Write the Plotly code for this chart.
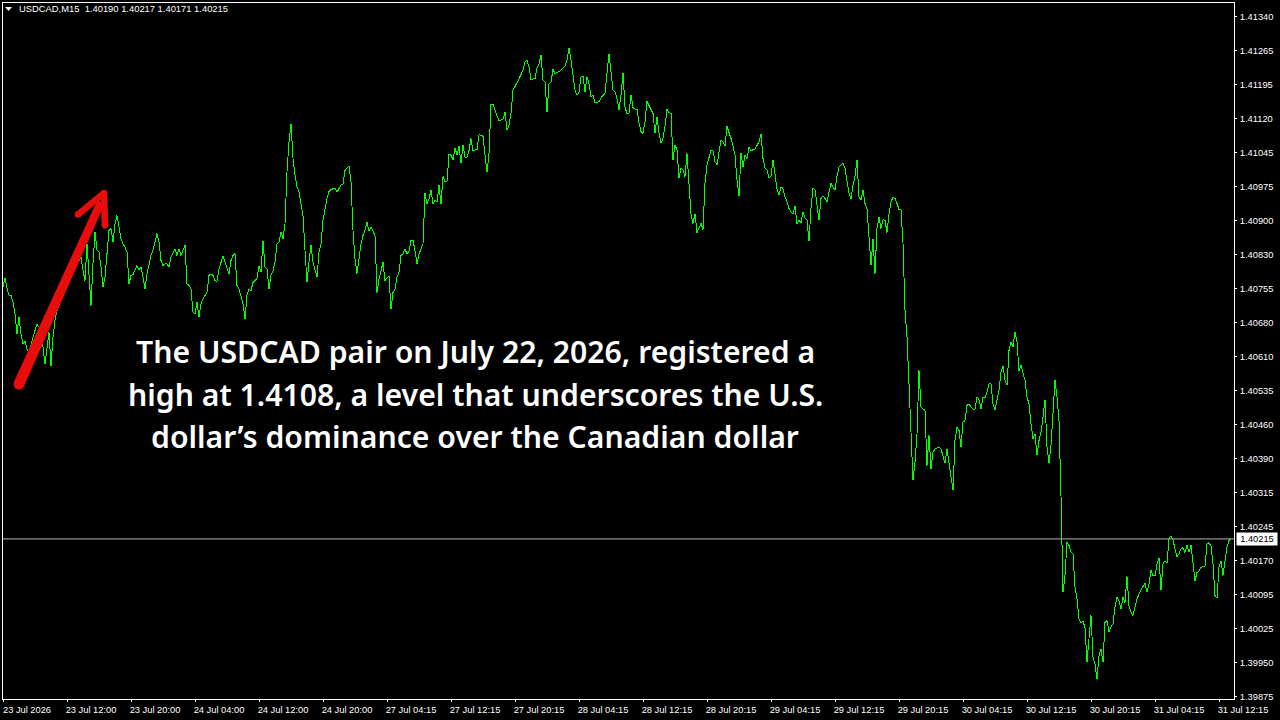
import plotly.graph_objects as go
import numpy as np

N = None
closes = [
 1.40758,1.40778,1.40756,1.40740,1.40740,1.40725,1.40700,1.40657,1.40693,1.40657,
 1.40635,1.40642,1.40624,1.40617,1.40632,1.40650,N,1.40678,1.40671,1.40642,
 1.40628,1.40592,1.40621,1.40660,1.40588,1.40650,1.40686,1.40707,1.40718,N,
 N,1.40750,N,N,1.40779,N,N,1.40808,N,1.40822,
 1.40794,1.40772,1.40851,1.40772,1.40718,1.40808,1.40876,1.40837,1.40833,1.40801,
 1.40758,1.40779,1.40837,1.40880,1.40884,1.40855,1.40894,1.40912,1.40887,1.40862,
 1.40851,1.40844,1.40833,1.40765,1.40783,1.40785,1.40794,1.40804,1.40794,1.40801,
 1.40779,1.40754,1.40786,1.40808,1.40826,1.40837,1.40855,1.40873,1.40855,1.40815,
 1.40804,1.40808,1.40808,1.40801,1.40822,1.40833,1.40840,1.40826,1.40840,1.40826,
 1.40837,1.40848,1.40765,1.40761,1.40754,1.40704,1.40700,1.40725,1.40693,1.40722,
 1.40732,1.40740,1.40747,1.40783,1.40786,1.40783,1.40772,1.40770,1.40797,N,
 1.40824,1.40812,1.40797,1.40786,1.40815,1.40826,1.40830,1.40761,1.40754,1.40740,
 1.40722,1.40689,1.40740,1.40754,1.40750,1.40768,1.40772,1.40776,1.40804,1.40790,
 1.40858,1.40801,1.40797,1.40754,1.40783,1.40793,1.40812,1.40851,1.40855,1.40877,
 1.40862,1.40894,1.41006,1.41071,1.41110,1.41035,1.40999,1.40974,1.40963,1.40934,
 1.40912,1.40837,1.40768,1.40812,1.40848,1.40812,1.40794,1.40779,1.40833,1.40851,
 1.40902,1.40927,1.40949,1.40964,1.40968,N,1.40971,1.40962,N,1.40978,
 1.40980,1.41009,1.41013,1.41019,1.40984,1.40880,1.40818,1.40787,1.40818,1.40851,
 1.40869,1.40881,1.40898,1.40878,1.40887,N,1.40869,1.40746,1.40775,1.40793,
 1.40811,1.40772,N,1.40782,1.40710,1.40746,1.40754,1.40779,1.40790,1.40826,
 1.40829,1.40840,1.40829,1.40836,1.40858,1.40859,1.40836,1.40808,1.40829,1.40842,
 1.40851,1.40960,1.40937,1.40948,1.40966,1.40936,1.40946,1.40941,1.40977,1.40937,
 1.40996,1.40984,1.40986,1.41044,1.41042,1.41032,1.41058,1.41042,1.41061,1.41025,
 1.41063,1.41038,1.41038,1.41052,1.41078,1.41052,N,1.41054,1.41086,N,
 1.41083,1.41042,1.41006,1.41045,1.41152,1.41152,1.41137,1.41126,1.41117,N,
 1.41119,1.41135,1.41096,1.41106,1.41132,1.41182,1.41189,1.41198,1.41207,N,
 1.41225,1.41243,1.41247,1.41232,1.41205,1.41206,1.41207,1.41229,1.41238,1.41258,
 1.41204,1.41200,1.41135,1.41196,1.41200,1.41227,1.41218,N,1.41222,N,
 1.41229,1.41234,1.41247,1.41272,1.41247,1.41218,1.41182,1.41171,1.41178,1.41211,
 1.41212,1.41178,1.41211,1.41196,1.41168,1.41171,1.41155,N,1.41157,1.41166,
 N,1.41175,1.41218,1.41261,1.41222,1.41182,1.41178,1.41164,1.41140,1.41171,
 1.41220,1.41145,1.41132,1.41132,1.41172,1.41145,1.41141,1.41141,1.41112,1.41093,
 1.41089,1.41114,1.41158,1.41150,1.41140,1.41132,1.41089,1.41125,1.41089,1.41068,
 1.41078,1.41104,1.41141,1.41134,1.41132,1.41032,1.41064,1.41053,1.40992,1.41014,
 1.41011,1.40996,1.41046,1.40974,1.40916,1.40895,1.40916,1.40875,1.40884,1.40895,
 1.40882,1.40981,1.41021,1.41040,1.41053,1.41052,1.41028,1.41021,1.41053,1.41075,
 1.41071,1.41062,1.41104,1.41093,1.41078,1.41062,1.41042,1.40988,1.40954,1.41046,
 1.41017,1.41042,1.41035,1.41059,1.41052,N,1.41055,N,1.41071,1.41088,
 1.41035,1.41014,1.41010,1.40994,1.40996,1.41032,1.40996,1.40970,1.40956,1.40974,
 1.40970,1.40952,1.40942,1.40927,1.40920,1.40916,1.40932,1.40893,1.40902,1.40896,
 1.40920,1.40906,1.40902,1.40857,1.40927,1.40970,1.40968,1.40938,1.40902,1.40949,
 1.40954,1.40949,1.40942,1.40963,1.40981,1.40973,1.40967,1.40996,1.41017,1.41021,
 1.41024,1.41014,1.40981,1.40960,1.40947,1.40978,1.40996,1.41032,1.40952,1.40945,
 1.40967,1.40938,1.40927,1.40862,1.40805,1.40862,1.40787,1.40884,1.40909,1.40884,
 1.40903,1.40902,1.40875,1.40916,1.40942,1.40951,1.40949,1.40938,1.40925,1.40925,
 1.40852,1.40708,1.40650,1.40549,1.40441,1.40341,1.40380,1.40441,1.40578,1.40499,
 1.40495,1.40492,1.40373,1.40438,1.40366,1.40402,1.40409,1.40411,1.40413,1.40409,
 1.40391,1.40378,1.40409,1.40380,1.40351,1.40320,1.40427,1.40456,1.40449,1.40413,
 1.40467,1.40470,1.40503,1.40506,1.40499,1.40495,1.40495,1.40521,1.40515,1.40495,
 1.40521,1.40519,1.40531,1.40549,1.40549,1.40506,1.40493,1.40517,1.40535,1.40575,
 1.40587,1.40557,1.40546,1.40621,1.40639,1.40629,1.40661,1.40639,1.40578,1.40589,
 1.40575,1.40557,1.40521,1.40506,1.40463,1.40431,1.40441,1.40395,1.40427,1.40445,
 1.40477,1.40515,1.40413,1.40378,1.40416,1.40477,1.40557,1.40521,1.40470,1.40308,
 1.40100,1.40136,1.40208,1.40201,1.40186,1.40183,1.40111,1.40086,1.40042,1.40035,
 1.40037,1.40024,1.39949,1.40000,1.40050,1.39960,1.39945,1.39913,1.39963,1.39978,
 1.39949,1.40035,1.40039,1.40014,1.40026,1.40032,1.40068,1.40089,1.40082,1.40064,
 1.40089,1.40078,1.40134,1.40071,1.40057,1.40050,1.40068,1.40086,N,1.40105,
 N,1.40120,1.40100,1.40118,1.40147,1.40136,1.40136,1.40161,1.40174,1.40105,
 1.40161,1.40168,1.40163,1.40215,1.40222,1.40212,1.40194,1.40176,1.40183,1.40194,
 1.40196,1.40186,1.40201,1.40186,1.40201,1.40158,1.40125,1.40143,1.40145,1.40154,
 N,1.40156,1.40204,1.40207,1.40199,1.40161,1.40093,1.40087,1.40154,1.40168,
 1.40136,1.40168,1.40197,1.40212,1.40215,
]
bars = list(range(len(closes)))

time_ticks = [0,32,64,96,128,160,192,224,256,288,320,352,384,416,448,480,512,544,576,608]
time_labels = ["23 Jul 2026","23 Jul 12:00","23 Jul 20:00","24 Jul 04:00","24 Jul 12:00","24 Jul 20:00",
               "27 Jul 04:15","27 Jul 12:15","27 Jul 20:15","28 Jul 04:15","28 Jul 12:15","28 Jul 20:15",
               "29 Jul 04:15","29 Jul 12:15","29 Jul 20:15","30 Jul 04:15","30 Jul 12:15","30 Jul 20:15",
               "31 Jul 04:15","31 Jul 12:15"]
price_labels = ["1.41340","1.41265","1.41195","1.41120","1.41045","1.40975","1.40900","1.40830","1.40755",
                "1.40680","1.40610","1.40535","1.40460","1.40390","1.40315","1.40245","1.40170","1.40095",
                "1.40025","1.39950","1.39875"]
price_ticks = np.linspace(1.41340, 1.39875, len(price_labels))
last_price = 1.40215
header = "USDCAD,M15  1.40190 1.40217 1.40171 1.40215"
message = ["The USDCAD pair on July 22, 2026, registered a",
           "high at 1.4108, a level that underscores the U.S.",
           "dollar’s dominance over the Canadian dollar"]

L, R, T, B = 3, 1234, 3, 699
W, H = 1280, 720
def px(x): return (x - L) / (R - L)
def py(y): return (B - y) / (B - T)
def poly(pts):
    return "M " + " L ".join(f"{px(a):.5f},{py(b):.5f}" for a, b in pts) + " Z"

RED = "#e80c0c"
def dot(x, y, r):
    return dict(type="circle", xref="paper", yref="paper", x0=px(x-r), x1=px(x+r),
                y0=py(y+r), y1=py(y-r), fillcolor=RED, line_width=0, layer="above")
def band(x0, y0, r0, x1, y1, r1):
    dx, dy = x1-x0, y1-y0
    n = (dx*dx+dy*dy)**0.5
    ux, uy = -dy/n, dx/n
    return dict(type="path", xref="paper", yref="paper", fillcolor=RED, line_width=0, layer="above",
                path=poly([(x0+ux*r0, y0+uy*r0), (x1+ux*r1, y1+uy*r1), (x1-ux*r1, y1-uy*r1), (x0-ux*r0, y0-uy*r0)]))

arrow = [
    band(19, 384, 5.5, 101, 202, 4),
    band(78, 214.5, 3.2, 104, 193, 3.2),
    band(105, 225, 3.4, 104, 193, 3.2),
    dot(19, 384, 5.5), dot(78, 214.5, 3.2), dot(105, 225, 3.4), dot(104, 193, 3.2),
]

fig = go.Figure(go.Scatter(x=bars, y=closes, mode="lines", connectgaps=True,
                           line=dict(color="#00ff00", width=1), hoverinfo="skip"))

shapes = [dict(type="line", xref="paper", yref="y", x0=0, x1=1, y0=last_price, y1=last_price,
               line=dict(color="#b4b4b4", width=1))]
shapes += arrow
shapes.append(dict(type="path", xref="paper", yref="paper", fillcolor="#ffffff", line_width=0,
                   path=poly([(5, 7), (12, 7), (8.5, 11)])))

SMALL = dict(size=9.3, family="Liberation Sans")
annotations = [dict(xref="paper", yref="paper", x=px(16.5), y=py(9), text=header, showarrow=False,
                    xanchor="left", yanchor="middle", font=dict(color="#ffffff", size=9.4, family="Liberation Sans")),
               dict(xref="paper", yref="y", x=1, y=last_price, xshift=2, text=f"{last_price:.5f}",
                    showarrow=False, xanchor="left", yanchor="middle", bgcolor="#ffffff",
                    width=40, height=12, align="center", borderpad=0,
                    font=dict(color="#000000", **SMALL))]
for text, y in zip(message, (352, 394, 436)):
    annotations.append(dict(xref="paper", yref="paper", x=px(475), y=py(y), text=text, showarrow=False,
                            xanchor="center", yanchor="middle",
                            font=dict(color="#ffffff", size=30.2, family="Noto Sans", weight=600)))

fig.update_layout(
    width=W, height=H, margin=dict(l=L, r=W-R, t=T, b=H-B, pad=0),
    paper_bgcolor="#000000", plot_bgcolor="#000000", showlegend=False, hovermode=False,
    shapes=shapes, annotations=annotations,
    xaxis=dict(range=[0, 615.5], tickmode="array", tickvals=time_ticks, ticktext=time_labels,
               showgrid=False, zeroline=False, showline=True, mirror=True, linecolor="#ffffff", linewidth=1,
               ticks="outside", ticklen=2, tickcolor="#ffffff", tickwidth=1,
               ticklabelshift=24, ticklabelstandoff=0,
               tickangle=0, tickfont=dict(color="#ffffff", **SMALL)),
    yaxis=dict(range=[1.39870, 1.41370], side="right", tickmode="array", tickvals=price_ticks, ticktext=price_labels,
               showgrid=False, zeroline=False, showline=True, mirror=True, linecolor="#ffffff", linewidth=1,
               ticks="outside", ticklen=2, tickcolor="#ffffff", tickwidth=1, ticklabelstandoff=1,
               tickfont=dict(color="#ffffff", **SMALL)),
)
assert len(closes) == 615
fig.write_html("out.html", config={"displayModeBar": False},
               post_script="document.body.style.margin='0';document.body.style.background='#000';"
                           "document.querySelectorAll('.js-line').forEach(e=>e.style.shapeRendering='crispEdges');")
